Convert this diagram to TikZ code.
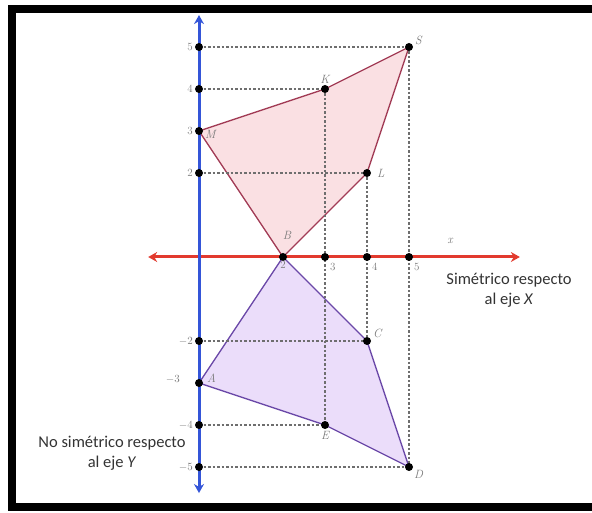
\documentclass[tikz,border=0pt]{standalone}
\usepackage{fontspec}
\newfontfamily\capfont{Carlito}
\usepackage{tikz}
\usetikzlibrary{arrows.meta}
\usetikzlibrary{positioning}
\definecolor{ax-red}{HTML}{E23A2E}
\definecolor{ax-blue}{HTML}{3455D8}
\definecolor{up-fill}{HTML}{FAE0E3}
\definecolor{up-edge}{HTML}{A23C56}
\definecolor{lo-fill}{HTML}{EBDDFA}
\definecolor{lo-edge}{HTML}{6B49A8}
\definecolor{guide-gray}{HTML}{6E6E6E}
\definecolor{lbl-gray}{HTML}{7A7A7A}

\begin{document}
\begin{tikzpicture}[x=1pt, y=1pt, >={Stealth[length=9pt, width=10pt]},
    guide/.style={guide-gray, dash pattern=on 2.5pt off 2pt, line width=1.3pt},
    dot/.style={circle, fill=black, inner sep=0pt, minimum size=8pt},
    ptlabel/.style={text=lbl-gray, inner sep=2pt, font=\fontsize{12}{14}\selectfont\itshape},
    tick/.style={text=lbl-gray, inner sep=2pt, font=\fontsize{11}{13}\selectfont},
    caption/.style={align=center, text=black!80, font=\capfont\fontsize{16.5}{20}\selectfont}]
    \useasboundingbox (0,0) rectangle (592,512);

    % --- Frame (cut off on the right) ---
    \begin{scope}
        \clip (0,0) rectangle (592,512);
        \draw[line width=8pt] (12,5) rectangle (640,503);
    \end{scope}

    % --- Plane: unit = 42px, origin at the crossing of the axes ---
    \begin{scope}[shift={(199,255)}, x=42pt, y=42pt]
        \coordinate (S) at (5,5);
        \coordinate (K) at (3,4);
        \coordinate (M) at (0,3);
        \coordinate (L) at (4,2);
        \coordinate (B) at (2,0);
        \coordinate (C) at (4,-2);
        \coordinate (A) at (0,-3);
        \coordinate (E) at (3,-4);
        \coordinate (D) at (5,-5);
        \foreach \n/\k in {p5/5, p4/4, p2/2, m2/-2, m4/-4, m5/-5}
            \coordinate (y\n) at (0,\k);
        \foreach \k in {3,4,5}
            \coordinate (x\k) at (\k,0);
        \coordinate (xl) at (-1.21,0);
        \coordinate (xr) at (7.64,0);
        \coordinate (yb) at (0,-5.62);
        \coordinate (yt) at (0,5.76);

        % polygons
        \filldraw[fill=up-fill, draw=up-edge, line width=1.3pt, line join=round]
            (M) -- (K) -- (S) -- (L) -- (B) -- cycle;
        \filldraw[fill=lo-fill, draw=lo-edge, line width=1.3pt, line join=round]
            (B) -- (C) -- (D) -- (E) -- (A) -- cycle;

        % guides
        \draw[guide] (yp5) -- (S);
        \draw[guide] (yp4) -- (K);
        \draw[guide] (yp2) -- (L);
        \draw[guide] (ym2) -- (C);
        \draw[guide] (ym4) -- (E);
        \draw[guide] (ym5) -- (D);
        \draw[guide] (K) -- (E);
        \draw[guide] (L) -- (C);
        \draw[guide] (S) -- (D);

        % axes
        \draw[<->, ax-red, line width=3pt] (xl) -- (xr);
        \draw[<->, ax-blue, line width=3pt] (yb) -- (yt);

        % dots
        \foreach \n in {yp5, yp4, yp2, ym2, ym4, ym5, x3, x4, x5, S, K, M, L, B, C, A, E, D}
            \node[dot] (d\n) at (\n) {};

        % tick labels
        \node[tick, left=4pt of yp5] (t5) {5};
        \node[tick, left=4pt of yp4] (t4) {4};
        \node[tick, left=4pt of M] (t3) {3};
        \node[tick, left=4pt of yp2] (t2) {2};
        \node[tick, left=4pt of ym2] (tm2) {$-2$};
        \node[tick, left=17pt of A, yshift=4pt] (tm3) {$-3$};
        \node[tick, left=4pt of ym4] (tm4) {$-4$};
        \node[tick, left=4pt of ym5] (tm5) {$-5$};
        \node[tick, below=2pt of B] (u2) {2};
        \node[tick, below right=4pt and 3pt of x3] (u3) {3};
        \node[tick, below right=4pt and 3pt of x4] (u4) {4};
        \node[tick, below right=4pt and 3pt of x5] (u5) {5};

        % point labels
        \node[ptlabel, above right=0pt and 4pt of S] (lS) {S};
        \node[ptlabel, above=3pt of K] (lK) {K};
        \node[ptlabel, right=4pt of M, yshift=-3pt] (lM) {M};
        \node[ptlabel, right=8pt of L] (lL) {L};
        \node[ptlabel, above=15pt of B, xshift=4pt] (lB) {B};
        \node[ptlabel, above right=1pt and 4pt of C] (lC) {C};
        \node[ptlabel, right=6pt of A, yshift=5pt] (lA) {A};
        \node[ptlabel, below=4pt of E] (lE) {E};
        \node[ptlabel, below right=1pt and 3pt of D] (lD) {D};
        \node[ptlabel] (lx) at (5.98,0.38) {x};
    \end{scope}

    % --- Captions ---
    \node[caption] (capx) at (509,222) {Simétrico respecto\\al eje \textit{X}};
    \node[caption] (capy) at (112,59) {No simétrico respecto\\al eje \textit{Y}};
\end{tikzpicture}
\end{document}
